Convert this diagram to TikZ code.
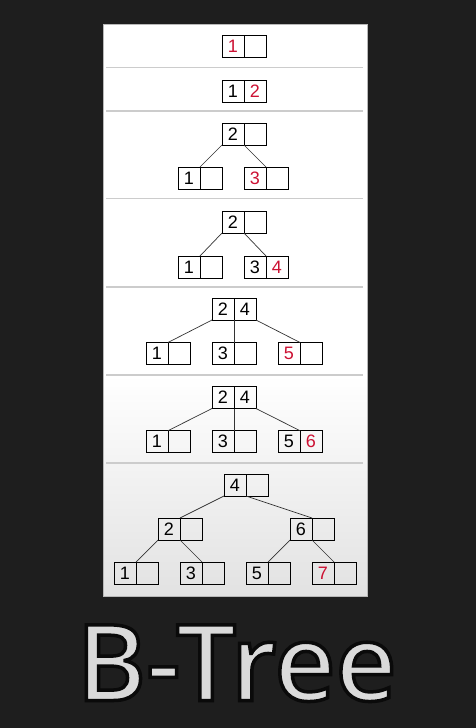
\documentclass[tikz,border=0pt]{standalone}
\usepackage{fontspec}
\setmainfont{Liberation Sans}
\newfontfamily\titlefont{Open Sans Semibold}
\definecolor{bgdark}{HTML}{1E1E1E}
\definecolor{newred}{HTML}{CC1133}
\definecolor{sepgray}{HTML}{CCCCCC}
\definecolor{panelbottom}{HTML}{E2E2E2}
\definecolor{titlegray}{HTML}{DADADA}
\definecolor{panelborder}{HTML}{B8B8B8}
\tikzset{
  cell/.style={draw=black, line width=0.9pt, minimum width=22pt, minimum height=22pt,
    inner sep=0pt, outer sep=0pt, font=\fontsize{18}{18}\selectfont},
  newkey/.style={text=newred},
  link/.style={draw=black!80, line width=0.7pt},
  sep/.style={draw=sepgray, line width=1.6pt},
}
\begin{document}
\begin{tikzpicture}[x=1pt,y=-1pt]
\useasboundingbox (0,0) rectangle (476,728);
\fill[bgdark] (0,0) rectangle (476,728);
% panel
\fill[white] (103,24) rectangle (367,376);
\shade[top color=white, bottom color=panelbottom] (103,375) rectangle (367,596);
\draw[panelborder, line width=0.6pt] (103,24) rectangle (367,596);
% separators
\foreach \yy in {67.5,111,198.5,287,375,463}
  \draw[sep] (106,\yy) -- (363,\yy);

% row 1
\node[cell,newkey] (a1) at (233,46) {1};
\node[cell] (a2) at (255,46) {};
% row 2
\node[cell] (b1) at (233,91) {1};
\node[cell,newkey] (b2) at (255,91) {2};
% row 3
\node[cell] (c1) at (233,134) {2};
\node[cell] (c2) at (255,134) {};
\node[cell] (cl1) at (189,178) {1};
\node[cell] (cl2) at (211,178) {};
\node[cell,newkey] (cr1) at (255,178) {3};
\node[cell] (cr2) at (277,178) {};
\draw[link] (c1.south west) -- (cl1.north east);
\draw[link] (c1.south east) -- (cr1.north east);
% row 4
\node[cell] (d1) at (233,222) {2};
\node[cell] (d2) at (255,222) {};
\node[cell] (dl1) at (189,267) {1};
\node[cell] (dl2) at (211,267) {};
\node[cell] (dr1) at (255,267) {3};
\node[cell,newkey] (dr2) at (277,267) {4};
\draw[link] (d1.south west) -- (dl1.north east);
\draw[link] (d1.south east) -- (dr1.north east);
% row 5
\node[cell] (e1) at (223,309) {2};
\node[cell] (e2) at (245,309) {4};
\node[cell] (el1) at (157,353.5) {1};
\node[cell] (el2) at (179,353.5) {};
\node[cell] (em1) at (223,353.5) {3};
\node[cell] (em2) at (245,353.5) {};
\node[cell,newkey] (er1) at (289,353.5) {5};
\node[cell] (er2) at (311,353.5) {};
\draw[link] (e1.south west) -- (el1.north east);
\draw[link] (e1.south east) -- (em1.north east);
\draw[link] (e2.south east) -- (er1.north east);
% row 6
\node[cell] (f1) at (223,397.5) {2};
\node[cell] (f2) at (245,397.5) {4};
\node[cell] (fl1) at (157,441.7) {1};
\node[cell] (fl2) at (179,441.7) {};
\node[cell] (fm1) at (223,441.7) {3};
\node[cell] (fm2) at (245,441.7) {};
\node[cell] (fr1) at (289,441.7) {5};
\node[cell,newkey] (fr2) at (311,441.7) {6};
\draw[link] (f1.south west) -- (fl1.north east);
\draw[link] (f1.south east) -- (fm1.north east);
\draw[link] (f2.south east) -- (fr1.north east);
% row 7
\node[cell] (g1) at (235,485) {4};
\node[cell] (g2) at (257,485) {};
\node[cell] (gl1) at (169,529) {2};
\node[cell] (gl2) at (191,529) {};
\node[cell] (gr1) at (301,529) {6};
\node[cell] (gr2) at (323,529) {};
\node[cell] (ga1) at (125,573) {1};
\node[cell] (ga2) at (147,573) {};
\node[cell] (gb1) at (191,573) {3};
\node[cell] (gb2) at (213,573) {};
\node[cell] (gc1) at (257,573) {5};
\node[cell] (gc2) at (279,573) {};
\node[cell,newkey] (gd1) at (323,573) {7};
\node[cell] (gd2) at (345,573) {};
\draw[link] (g1.south west) -- (gl1.north east);
\draw[link] (g1.south east) -- (gr1.north east);
\draw[link] (gl1.south west) -- (ga1.north east);
\draw[link] (gl1.south east) -- (gb1.north east);
\draw[link] (gr1.south west) -- (gc1.north east);
\draw[link] (gr1.south east) -- (gd1.north east);

% title
\node[anchor=base, inner sep=0pt, text=titlegray, font=\titlefont\fontsize{106}{106}\selectfont]
  (title) at (236.5,700.5) {\special{pdf:code 2 Tr 3.5 w 0.04 0.04 0.04 RG}B-Tree\special{pdf:code 0 Tr}};
\end{tikzpicture}
\end{document}
